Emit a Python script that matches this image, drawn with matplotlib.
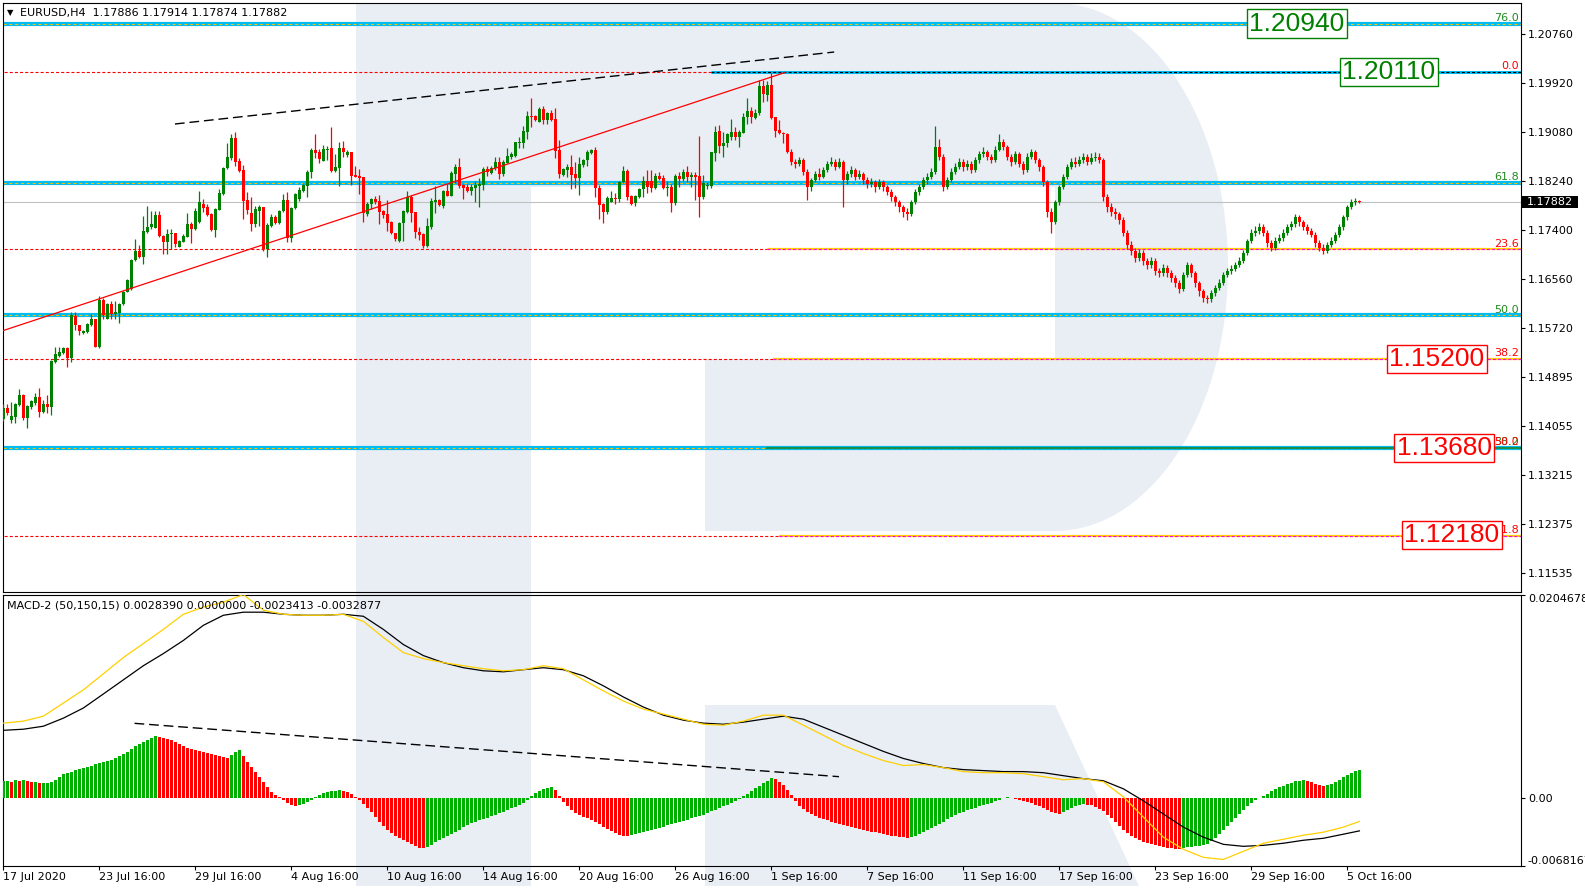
import numpy as np
import matplotlib
matplotlib.use("Agg")
import matplotlib.pyplot as plt
import matplotlib.transforms as mtransforms
from matplotlib.patches import Polygon, Rectangle

plt.rcParams['font.family'] = ['DejaVu Sans']
plt.rcParams['lines.scale_dashes'] = False
plt.rcParams['axes.linewidth'] = 0.8

# ---------------- data (EURUSD H4, bar 0 = 17 Jul 2020 16:00) ----------------
opens = [
    1.14165, 1.14354, 1.14154, 1.14211, 1.14411, 1.14582, 1.14183, 1.14382, 1.14439, 1.14542,
    1.14297, 1.14428, 1.14382, 1.15152, 1.15249, 1.15295, 1.15381, 1.15209, 1.15940, 1.15780,
    1.15649, 1.15666, 1.15780, 1.15877, 1.15409, 1.16208, 1.15888, 1.16139, 1.15963, 1.15991,
    1.16134, 1.16350, 1.16390, 1.16892, 1.17041, 1.16949, 1.17377, 1.17452, 1.17446, 1.17657,
    1.17309, 1.17206, 1.17332, 1.17349, 1.17121, 1.17206, 1.17292, 1.17509, 1.17423, 1.17549,
    1.17845, 1.17805, 1.17680, 1.17406, 1.17748, 1.18022, 1.18461, 1.18632, 1.18975, 1.18587,
    1.18433, 1.17919, 1.17691, 1.17509, 1.17737, 1.17794, 1.17075, 1.17480, 1.17628, 1.17532,
    1.17731, 1.17919, 1.17275, 1.17777, 1.17931, 1.18079, 1.18159, 1.18404, 1.18775, 1.18741,
    1.18593, 1.18781, 1.18804, 1.18421, 1.18467, 1.18804, 1.18689, 1.18741, 1.18347, 1.18330,
    1.18307, 1.17680, 1.17851, 1.17936, 1.17902, 1.17731, 1.17680, 1.17549, 1.17349, 1.17223,
    1.17520, 1.17719, 1.17976, 1.17708, 1.17371, 1.17337, 1.17137, 1.17463, 1.17879, 1.17919,
    1.17816, 1.18073, 1.17993, 1.18358, 1.18478, 1.18176, 1.18147, 1.18079, 1.18130, 1.18158,
    1.18176, 1.18449, 1.18375, 1.18461, 1.18564, 1.18364, 1.18558, 1.18661, 1.18678, 1.18900,
    1.18900, 1.19088, 1.19357, 1.19357, 1.19260, 1.19476, 1.19288, 1.19402, 1.19299, 1.18775,
    1.18347, 1.18432, 1.18489, 1.18364, 1.18301, 1.18518, 1.18604, 1.18729, 1.18775, 1.18130,
    1.17851, 1.17719, 1.17890, 1.17959, 1.17930, 1.18221, 1.18415, 1.17987, 1.17862, 1.17976,
    1.18101, 1.18244, 1.18244, 1.18119, 1.18330, 1.18290, 1.18119, 1.18136, 1.17873, 1.18330,
    1.18273, 1.18404, 1.18318, 1.18347, 1.18330, 1.17964, 1.18158, 1.18158, 1.18729, 1.19100,
    1.18849, 1.18889, 1.18991, 1.19088, 1.19003, 1.19071, 1.19334, 1.19442, 1.19317, 1.19402,
    1.19870, 1.19716, 1.19887, 1.19334, 1.19117, 1.19071, 1.19043, 1.18747, 1.18574, 1.18539,
    1.18608, 1.18400, 1.18141, 1.18262, 1.18366, 1.18314, 1.18435, 1.18539, 1.18574, 1.18487,
    1.18574, 1.18262, 1.18366, 1.18435, 1.18314, 1.18366, 1.18262, 1.18193, 1.18227, 1.18141,
    1.18227, 1.18141, 1.18054, 1.17968, 1.17881, 1.17795, 1.17708, 1.17674, 1.17881, 1.18054,
    1.18141, 1.18262, 1.18314, 1.18400, 1.18833, 1.18660, 1.18141, 1.18262, 1.18400, 1.18487,
    1.18574, 1.18487, 1.18539, 1.18435, 1.18608, 1.18712, 1.18747, 1.18660, 1.18608, 1.18781,
    1.18920, 1.18833, 1.18660, 1.18574, 1.18712, 1.18539, 1.18435, 1.18660, 1.18747, 1.18608,
    1.18487, 1.18227, 1.17708, 1.17535, 1.17881, 1.18141, 1.18314, 1.18487, 1.18574, 1.18539,
    1.18608, 1.18660, 1.18574, 1.18643, 1.18660, 1.18608, 1.17968, 1.17795, 1.17708, 1.17674,
    1.17570, 1.17362, 1.17155, 1.17051, 1.16930, 1.17016, 1.16878, 1.16809, 1.16878, 1.16705,
    1.16670, 1.16757, 1.16670, 1.16584, 1.16497, 1.16393, 1.16636, 1.16809, 1.16670, 1.16497,
    1.16359, 1.16238, 1.16220, 1.16324, 1.16411, 1.16497, 1.16636, 1.16705, 1.16739, 1.16809,
    1.16878, 1.17016, 1.17224, 1.17362, 1.17397, 1.17449, 1.17362, 1.17189, 1.17103, 1.17224,
    1.17276, 1.17362, 1.17449, 1.17501, 1.17622, 1.17535, 1.17449, 1.17397, 1.17328, 1.17189,
    1.17103, 1.17051, 1.17155, 1.17224, 1.17328, 1.17449, 1.17622, 1.17795, 1.17881, 1.17886,
]
highs = [
    1.14428, 1.14428, 1.14456, 1.14439, 1.14679, 1.14599, 1.14411, 1.14496, 1.14622, 1.14696,
    1.14496, 1.14582, 1.15181, 1.15409, 1.15409, 1.15409, 1.15398, 1.16008, 1.16008, 1.15780,
    1.15694, 1.15809, 1.15963, 1.15888, 1.16276, 1.16236, 1.16151, 1.16196, 1.16196, 1.16151,
    1.16368, 1.16561, 1.16904, 1.17246, 1.17149, 1.17646, 1.17817, 1.17737, 1.17737, 1.17737,
    1.17320, 1.17417, 1.17417, 1.17358, 1.17235, 1.17332, 1.17691, 1.17549, 1.17777, 1.18073,
    1.17936, 1.17845, 1.17700, 1.17788, 1.18108, 1.18478, 1.18889, 1.19049, 1.19077, 1.18632,
    1.18518, 1.18062, 1.17976, 1.17822, 1.17834, 1.17805, 1.17532, 1.17680, 1.17657, 1.17748,
    1.18022, 1.18051, 1.17794, 1.18033, 1.18148, 1.18205, 1.18433, 1.18804, 1.19049, 1.18786,
    1.18861, 1.18844, 1.19169, 1.18707, 1.18918, 1.18929, 1.18775, 1.18747, 1.18501, 1.18444,
    1.18319, 1.17879, 1.17949, 1.17988, 1.18005, 1.17748, 1.17919, 1.17566, 1.17360, 1.17548,
    1.17748, 1.18073, 1.18004, 1.17719, 1.17451, 1.17348, 1.17605, 1.17947, 1.18164, 1.17936,
    1.18090, 1.18193, 1.18415, 1.18535, 1.18632, 1.18193, 1.18193, 1.18193, 1.18250, 1.18301,
    1.18478, 1.18501, 1.18501, 1.18661, 1.18661, 1.18604, 1.18803, 1.18735, 1.18917, 1.19003,
    1.19185, 1.19442, 1.19659, 1.19374, 1.19516, 1.19528, 1.19431, 1.19459, 1.19488, 1.18946,
    1.18461, 1.18535, 1.18689, 1.18575, 1.18661, 1.18621, 1.18775, 1.18786, 1.18820, 1.18176,
    1.17873, 1.17987, 1.18073, 1.18033, 1.18250, 1.18501, 1.18449, 1.18004, 1.18004, 1.18130,
    1.18335, 1.18432, 1.18432, 1.18375, 1.18393, 1.18347, 1.18250, 1.18193, 1.18364, 1.18393,
    1.18449, 1.18501, 1.18393, 1.18393, 1.19014, 1.18347, 1.18233, 1.18746, 1.19185, 1.19203,
    1.19088, 1.19071, 1.19299, 1.19174, 1.19117, 1.19414, 1.19670, 1.19516, 1.19476, 1.19973,
    1.19973, 1.19961, 1.20098, 1.19345, 1.19288, 1.19088, 1.19060, 1.18800, 1.18620, 1.18660,
    1.18630, 1.18450, 1.18300, 1.18420, 1.18460, 1.18480, 1.18580, 1.18660, 1.18620, 1.18640,
    1.18600, 1.18410, 1.18500, 1.18470, 1.18430, 1.18400, 1.18320, 1.18300, 1.18260, 1.18280,
    1.18260, 1.18180, 1.18100, 1.18000, 1.17920, 1.17840, 1.17780, 1.17920, 1.18100, 1.18200,
    1.18320, 1.18380, 1.18460, 1.19179, 1.18960, 1.18700, 1.18320, 1.18460, 1.18560, 1.18640,
    1.18620, 1.18600, 1.18580, 1.18660, 1.18760, 1.18820, 1.18780, 1.18700, 1.18840, 1.19041,
    1.18960, 1.18860, 1.18700, 1.18760, 1.18740, 1.18580, 1.18720, 1.18800, 1.18780, 1.18640,
    1.18520, 1.18260, 1.17780, 1.17920, 1.18180, 1.18360, 1.18540, 1.18640, 1.18660, 1.18680,
    1.18720, 1.18700, 1.18720, 1.18740, 1.18720, 1.18640, 1.18020, 1.17860, 1.17780, 1.17720,
    1.17620, 1.17400, 1.17220, 1.17100, 1.17080, 1.17060, 1.16920, 1.16940, 1.16920, 1.16760,
    1.16820, 1.16800, 1.16720, 1.16640, 1.16550, 1.16680, 1.16860, 1.16840, 1.16700, 1.16540,
    1.16400, 1.16300, 1.16380, 1.16460, 1.16560, 1.16680, 1.16760, 1.16800, 1.16860, 1.16940,
    1.17060, 1.17260, 1.17420, 1.17480, 1.17520, 1.17500, 1.17400, 1.17240, 1.17280, 1.17340,
    1.17420, 1.17500, 1.17560, 1.17680, 1.17660, 1.17580, 1.17500, 1.17440, 1.17380, 1.17240,
    1.17160, 1.17200, 1.17280, 1.17380, 1.17500, 1.17660, 1.17840, 1.17940, 1.17960, 1.17914,
]
lows = [
    1.14143, 1.14234, 1.14097, 1.14108, 1.14394, 1.14154, 1.14011, 1.14337, 1.14411, 1.14211,
    1.14268, 1.14268, 1.14240, 1.15135, 1.15238, 1.15284, 1.15055, 1.15152, 1.15694, 1.15609,
    1.15626, 1.15649, 1.15763, 1.15398, 1.15392, 1.15877, 1.15877, 1.15877, 1.15888, 1.15809,
    1.16122, 1.16339, 1.16379, 1.16881, 1.16921, 1.16818, 1.17360, 1.17417, 1.17434, 1.17292,
    1.16989, 1.16989, 1.17075, 1.17121, 1.17109, 1.17195, 1.17280, 1.17178, 1.17406, 1.17532,
    1.17720, 1.17646, 1.17394, 1.17292, 1.17740, 1.18005, 1.18450, 1.18604, 1.18501, 1.18404,
    1.17594, 1.17680, 1.17394, 1.17452, 1.17480, 1.17052, 1.16949, 1.17463, 1.17509, 1.17509,
    1.17720, 1.17206, 1.17206, 1.17765, 1.17910, 1.18051, 1.17976, 1.18302, 1.18632, 1.18547,
    1.18587, 1.18604, 1.18404, 1.18400, 1.18159, 1.18661, 1.18661, 1.18176, 1.18307, 1.18016,
    1.17549, 1.17651, 1.17760, 1.17851, 1.17509, 1.17606, 1.17394, 1.17338, 1.17220, 1.17206,
    1.17217, 1.17691, 1.17548, 1.17274, 1.17234, 1.17103, 1.17109, 1.17423, 1.17702, 1.17816,
    1.17788, 1.17987, 1.17987, 1.18204, 1.18119, 1.17930, 1.18050, 1.18004, 1.17890, 1.17805,
    1.18090, 1.18330, 1.18364, 1.18432, 1.18278, 1.18330, 1.18546, 1.18615, 1.18661, 1.18815,
    1.18815, 1.18957, 1.19174, 1.19271, 1.19248, 1.19214, 1.19214, 1.19271, 1.18643, 1.18290,
    1.18330, 1.18307, 1.18107, 1.18119, 1.18004, 1.18478, 1.18501, 1.18700, 1.17976, 1.17594,
    1.17531, 1.17679, 1.17879, 1.17845, 1.17890, 1.18204, 1.17919, 1.17833, 1.17822, 1.17959,
    1.17976, 1.18033, 1.18050, 1.18101, 1.18261, 1.18107, 1.17987, 1.17719, 1.17833, 1.18136,
    1.18250, 1.18233, 1.18147, 1.17919, 1.17622, 1.17930, 1.18101, 1.18130, 1.18592, 1.18729,
    1.18661, 1.18832, 1.18946, 1.18946, 1.18832, 1.19060, 1.19214, 1.19242, 1.19299, 1.19374,
    1.19602, 1.19619, 1.19299, 1.19003, 1.19048, 1.18900, 1.18720, 1.18520, 1.18460, 1.18500,
    1.18350, 1.17916, 1.18080, 1.18220, 1.18260, 1.18290, 1.18400, 1.18500, 1.18440, 1.18460,
    1.17795, 1.18200, 1.18320, 1.18260, 1.18280, 1.18200, 1.18120, 1.18140, 1.18060, 1.18100,
    1.18080, 1.18000, 1.17900, 1.17820, 1.17720, 1.17620, 1.17570, 1.17640, 1.17850, 1.18000,
    1.18100, 1.18200, 1.18280, 1.18360, 1.18600, 1.18080, 1.18100, 1.18220, 1.18360, 1.18450,
    1.18420, 1.18440, 1.18380, 1.18400, 1.18560, 1.18660, 1.18600, 1.18550, 1.18570, 1.18750,
    1.18780, 1.18600, 1.18500, 1.18540, 1.18480, 1.18360, 1.18400, 1.18620, 1.18550, 1.18420,
    1.18160, 1.17620, 1.17362, 1.17500, 1.17840, 1.18100, 1.18280, 1.18450, 1.18480, 1.18500,
    1.18560, 1.18520, 1.18540, 1.18580, 1.18550, 1.17900, 1.17720, 1.17640, 1.17600, 1.17500,
    1.17300, 1.17080, 1.16980, 1.16860, 1.16880, 1.16800, 1.16740, 1.16760, 1.16640, 1.16600,
    1.16620, 1.16600, 1.16520, 1.16430, 1.16320, 1.16360, 1.16600, 1.16600, 1.16430, 1.16280,
    1.16180, 1.16151, 1.16180, 1.16280, 1.16380, 1.16460, 1.16600, 1.16660, 1.16700, 1.16770,
    1.16840, 1.16980, 1.17180, 1.17300, 1.17340, 1.17300, 1.17120, 1.17040, 1.17060, 1.17180,
    1.17220, 1.17320, 1.17400, 1.17460, 1.17480, 1.17400, 1.17340, 1.17280, 1.17120, 1.17050,
    1.17000, 1.17020, 1.17120, 1.17180, 1.17280, 1.17400, 1.17580, 1.17760, 1.17840, 1.17874,
]
closes = [
    1.14354, 1.14268, 1.14223, 1.14422, 1.14582, 1.14183, 1.14394, 1.14474, 1.14542, 1.14297,
    1.14422, 1.14382, 1.15170, 1.15284, 1.15324, 1.15381, 1.15209, 1.15951, 1.15774, 1.15683,
    1.15683, 1.15797, 1.15877, 1.15410, 1.16208, 1.15951, 1.16139, 1.15968, 1.15997, 1.16139,
    1.16350, 1.16550, 1.16892, 1.17041, 1.16949, 1.17389, 1.17463, 1.17509, 1.17657, 1.17309,
    1.17206, 1.17338, 1.17349, 1.17161, 1.17218, 1.17303, 1.17509, 1.17429, 1.17731, 1.17891,
    1.17788, 1.17663, 1.17406, 1.17771, 1.18033, 1.18467, 1.18661, 1.18975, 1.18575, 1.18421,
    1.17908, 1.17748, 1.17509, 1.17765, 1.17805, 1.17075, 1.17491, 1.17628, 1.17532, 1.17731,
    1.17919, 1.17263, 1.17777, 1.18022, 1.18091, 1.18176, 1.18404, 1.18775, 1.18729, 1.18627,
    1.18786, 1.18792, 1.18421, 1.18478, 1.18804, 1.18747, 1.18747, 1.18336, 1.18307, 1.18302,
    1.17691, 1.17851, 1.17931, 1.17891, 1.17720, 1.17663, 1.17520, 1.17349, 1.17246, 1.17531,
    1.17731, 1.17976, 1.17702, 1.17371, 1.17320, 1.17137, 1.17480, 1.17902, 1.17919, 1.17833,
    1.18073, 1.17993, 1.18375, 1.18478, 1.18164, 1.18130, 1.18079, 1.18147, 1.18176, 1.18193,
    1.18449, 1.18404, 1.18461, 1.18564, 1.18364, 1.18575, 1.18672, 1.18706, 1.18906, 1.18917,
    1.19106, 1.19357, 1.19334, 1.19288, 1.19476, 1.19288, 1.19402, 1.19288, 1.18763, 1.18364,
    1.18449, 1.18489, 1.18347, 1.18301, 1.18529, 1.18604, 1.18735, 1.18775, 1.18119, 1.17833,
    1.17719, 1.17959, 1.17959, 1.17930, 1.18233, 1.18415, 1.17976, 1.17851, 1.17987, 1.18107,
    1.18244, 1.18147, 1.18119, 1.18330, 1.18278, 1.18119, 1.18147, 1.17873, 1.18330, 1.18278,
    1.18404, 1.18318, 1.18347, 1.18318, 1.17964, 1.18216, 1.18176, 1.18746, 1.19088, 1.18849,
    1.18900, 1.19048, 1.19088, 1.19003, 1.19088, 1.19345, 1.19442, 1.19345, 1.19402, 1.19870,
    1.19727, 1.19887, 1.19328, 1.19106, 1.19071, 1.19043, 1.18747, 1.18574, 1.18539, 1.18608,
    1.18400, 1.18141, 1.18262, 1.18366, 1.18314, 1.18435, 1.18539, 1.18574, 1.18487, 1.18574,
    1.18262, 1.18366, 1.18435, 1.18314, 1.18366, 1.18262, 1.18193, 1.18227, 1.18141, 1.18227,
    1.18141, 1.18054, 1.17968, 1.17881, 1.17795, 1.17708, 1.17674, 1.17881, 1.18054, 1.18141,
    1.18262, 1.18314, 1.18400, 1.18833, 1.18660, 1.18141, 1.18262, 1.18400, 1.18487, 1.18574,
    1.18487, 1.18539, 1.18435, 1.18608, 1.18712, 1.18747, 1.18660, 1.18608, 1.18781, 1.18920,
    1.18833, 1.18660, 1.18574, 1.18712, 1.18539, 1.18435, 1.18660, 1.18747, 1.18608, 1.18487,
    1.18227, 1.17708, 1.17535, 1.17881, 1.18141, 1.18314, 1.18487, 1.18574, 1.18539, 1.18608,
    1.18660, 1.18574, 1.18643, 1.18660, 1.18608, 1.17968, 1.17795, 1.17708, 1.17674, 1.17570,
    1.17362, 1.17155, 1.17051, 1.16930, 1.17016, 1.16878, 1.16809, 1.16878, 1.16705, 1.16670,
    1.16757, 1.16670, 1.16584, 1.16497, 1.16393, 1.16636, 1.16809, 1.16670, 1.16497, 1.16359,
    1.16238, 1.16220, 1.16324, 1.16411, 1.16497, 1.16636, 1.16705, 1.16739, 1.16809, 1.16878,
    1.17016, 1.17224, 1.17362, 1.17397, 1.17449, 1.17362, 1.17189, 1.17103, 1.17224, 1.17276,
    1.17362, 1.17449, 1.17501, 1.17622, 1.17535, 1.17449, 1.17397, 1.17328, 1.17189, 1.17103,
    1.17051, 1.17155, 1.17224, 1.17328, 1.17449, 1.17622, 1.17795, 1.17881, 1.17886, 1.17882,
]

# MACD-2 (50,150,15) histogram, units of 1e-4
macd_hist = [
    17, 17, 16, 18, 17, 18, 17, 16, 16, 15,
    15, 15, 16, 18, 21, 24, 25, 26, 28, 29,
    30, 31, 32, 34, 35, 36, 37, 38, 40, 42,
    44, 46, 49, 52, 54, 56, 58, 60, 62, 61,
    60, 59, 58, 56, 54, 52, 50, 49, 48, 47,
    46, 45, 44, 43, 42, 41, 40, 43, 46, 48,
    42, 36, 31, 26, 21, 16, 11, 6, 3, 1,
    -2, -5, -7, -8, -7, -6, -4, -2, 1, 3,
    5, 6, 7, 7.5, 8, 7, 6, 4, 1, -2,
    -6, -10, -14, -19, -24, -28, -32, -35, -38, -40,
    -42, -44, -46, -48, -50, -50.5, -49, -47, -44, -42,
    -40, -38, -36, -34, -32, -29, -27, -25, -24, -22,
    -21, -20, -18, -17, -15, -14, -12, -10, -9, -7,
    -5, -2, 2, 5, 7, 9, 10, 11, 8, 2,
    -4, -8, -12, -15, -17, -19, -20, -22, -24, -26,
    -29, -31, -33, -35, -37, -38, -38.5, -37, -36, -35,
    -34, -33, -32, -31, -30, -29, -27, -26, -25, -24,
    -23, -22, -20, -19, -18, -17, -15, -13, -12, -10,
    -8, -7, -5, -3, -1, 2, 4, 7, 10, 12,
    15, 17, 20, 19, 16, 13, 8, 3, -3, -8,
    -11, -14, -16, -18, -20, -21, -22, -24, -25, -26,
    -27, -28, -29, -30, -31, -32, -33, -34, -34.5, -35,
    -36, -37, -38, -38.5, -39, -39.5, -40, -39, -38, -36,
    -34, -32, -30, -28, -26, -24, -21, -19, -17, -15,
    -14, -12, -11, -10, -8, -7, -6, -5, -3, -2,
    0, 1, 0, -1, -2, -3, -4, -5, -7, -8,
    -10, -12, -14, -15, -16, -14, -12, -10, -8, -7,
    -6, -6.5, -7, -9, -11, -13, -17, -20, -24, -28,
    -32, -35, -38, -40, -42, -44, -45, -46, -47, -48,
    -49, -50, -50.5, -51, -51.5, -50, -49.5, -49, -48.5, -48,
    -47, -46, -43, -40, -36, -32, -28, -24, -20, -16,
    -12, -8, -5, -2, 0, 2, 4, 7, 9, 11,
    12, 14, 15, 17, 17.5, 18, 17, 16, 14, 13,
    12, 13, 14, 16, 18, 21, 23, 25, 27, 28.39,
]
macd_bars = list(range(0, 336, 5)) + [339]
macd_main = [
    75.4, 77.4, 82.4, 95.6, 108.8, 125.0, 141.3, 155.4, 169.6, 184.8,
    192.0, 197.0, 204.6, 188.9, 184.8, 183.8, 183.8, 184.8, 177.7, 161.5,
    146.3, 140.2, 136.2, 133.1, 130.1, 128.0, 129.1, 133.1, 130.1, 118.9,
    107.8, 97.6, 89.5, 84.5, 79.4, 74.3, 73.3, 77.4, 83.4, 83.4,
    73.3, 63.2, 53.0, 44.9, 37.8, 32.8, 33.8, 30.7, 26.7, 25.6,
    25.6, 24.6, 21.6, 18.5, 19.6, 16.5, 1.3, -19.0, -39.2, -51.4,
    -59.5, -61.6, -53.4, -45.3, -41.3, -37.2, -34.2, -29.1, -23.413,
]
macd_signal = [
    68.2, 69.3, 72.3, 80.4, 90.6, 104.7, 118.9, 133.1, 145.3, 158.5,
    173.7, 183.8, 186.9, 186.9, 184.8, 183.8, 183.8, 184.8, 182.8, 169.6,
    154.4, 143.3, 136.2, 131.1, 128.0, 127.0, 129.1, 131.1, 129.1, 123.0,
    112.9, 101.7, 91.6, 83.4, 78.4, 75.4, 74.3, 76.4, 79.4, 82.4,
    79.4, 71.3, 63.2, 55.1, 47.0, 39.9, 34.8, 30.7, 28.7, 27.7,
    26.7, 26.7, 25.6, 22.6, 19.6, 17.5, 9.4, -2.7, -15.9, -29.1,
    -39.2, -46.4, -48.4, -47.4, -45.3, -42.3, -40.3, -36.2, -32.877,
]

date_ticks = list(range(0, 337, 24))
date_labels = ['17 Jul 2020', '23 Jul 16:00', '29 Jul 16:00', '4 Aug 16:00', '10 Aug 16:00',
               '14 Aug 16:00', '20 Aug 16:00', '26 Aug 16:00', '1 Sep 16:00', '7 Sep 16:00',
               '11 Sep 16:00', '17 Sep 16:00', '23 Sep 16:00', '29 Sep 16:00', '5 Oct 16:00']
price_ticks = [1.20760, 1.19920, 1.19080, 1.18240, 1.17400, 1.16560, 1.15720,
               1.14895, 1.14055, 1.13215, 1.12375, 1.11535]
macd_ticks = [0.0204678, 0.0, -0.0068167]
macd_tick_labels = ['0.0204678', '0.00', '-0.0068167']

last_price = 1.17882
# fibo grid 1 (thick blue lines)
blue_levels = [1.20940, 1.18212, 1.15946, 1.13680]
blue_names = ['76.0', '61.8', '50.0', '38.2']
# fibo grid 2 (red dashed) with bar where the right-hand copy starts
red_levels = [1.20110, 1.17077, 1.15200, 1.13680, 1.12167]
red_names = ['0.0', '23.6', '38.2', '50.0', '61.8']
red_start = [177, 191, 192.5, 191, 194]
# price labels
box_texts = ['1.20940', '1.20110', '1.15200', '1.13680', '1.12180']
box_levels = [1.20940, 1.20110, 1.15200, 1.13680, 1.12180]
# trend lines (bar, price)
tl_upper = ([42.9, 207.7], [1.19220, 1.20452])
tl_red = ([-0.16, 195.4], [1.15682, 1.20101])
tl_macd = ([32.8, 208.9], [0.00752, 0.00216])

# ---------------- figure ----------------
W, H = 1585, 890
fig = plt.figure(figsize=(W / 100, H / 100), dpi=100)
fig.patch.set_facecolor('white')

# watermark "R"
bg = fig.add_axes([0, 0, 1, 1], zorder=0)
bg.set_xlim(0, W)
bg.set_ylim(H, 0)
bg.axis('off')
wm = '#e9eef5'
t = np.linspace(np.pi / 2, -np.pi / 2, 80)
arc = np.column_stack([1055 + 173 * np.cos(t), 267 - 264 * np.sin(t)])
r_pts = [(356, 3)] + arc.tolist() + [(705, 531), (705, 359), (1055, 359), (1055, 187),
                                     (531, 187), (531, 886), (356, 886)]
bg.add_patch(Polygon(r_pts, closed=True, fc=wm, ec='none'))
bg.add_patch(Polygon([(705, 705), (1055, 705), (1139, 886), (705, 886)], closed=True, fc=wm, ec='none'))

left, right = 2.5, 1521
ax = fig.add_axes([left / W, 1 - 592 / H, (right - left) / W, (592 - 3) / H], zorder=1)
ax2 = fig.add_axes([left / W, 1 - 866 / H, (right - left) / W, (866 - 594.5) / H], zorder=1)
for a in (ax, ax2):
    a.set_facecolor('none')
    a.set_xlim(-0.21, 379.4)
    for s in a.spines.values():
        s.set_color('black')
        s.set_linewidth(0.8)

ax.set_ylim(1.11210, 1.21291)
ax2.set_ylim(-0.0068167, 0.0204678)

o = np.array(opens)
h = np.array(highs)
l = np.array(lows)
c = np.array(closes)
x = np.arange(len(c))
GREEN, RED = '#008000', '#ff0000'

# horizontal levels
XR = 400
ax.axhline(last_price, color='#c0c0c0', lw=0.8, zorder=1.5)
for lv in blue_levels:
    ax.axhline(lv, color='#00bcf2', lw=3.0, zorder=2)
    ax.axhline(lv, color='#ffc000', lw=0.8, dashes=(2.2, 2.0), zorder=2.1)

for i, (lv, xs) in enumerate(zip(red_levels, red_start)):
    if i != 3:
        ax.plot([-1, xs], [lv, lv], color=RED, lw=0.8, dashes=(2.2, 1.5), zorder=2.2)
    if i == 0:
        ax.plot([xs, XR], [lv, lv], color='#00bcf2', lw=2.2, solid_capstyle='butt', zorder=2.2)
        ax.plot([xs, XR], [lv, lv], color='black', lw=0.8, dashes=(2.2, 1.5), zorder=2.3)
    elif i == 3:
        ax.plot([xs, XR], [lv, lv], color='#1a8a3a', lw=1.3, zorder=2.3)
    else:
        ax.plot([xs, XR], [lv, lv], color='#ffd000', lw=1.6, solid_capstyle='butt', zorder=2.2)
        ax.plot([xs, XR], [lv, lv], color='#ff00ff', lw=0.8, dashes=(2.2, 1.5), zorder=2.3)

# candles
col = np.where(c >= o, GREEN, RED)
ax.vlines(x, l, h, colors=col, lw=0.9, zorder=4)
ax.bar(x, np.maximum(np.abs(c - o), 0.00013), bottom=np.minimum(o, c), width=0.72,
       color=col, lw=0, zorder=5)

# trend lines
ax.plot(tl_upper[0], tl_upper[1], color='black', lw=1.0, dashes=(7, 3.5), zorder=6)
ax.plot(tl_red[0], tl_red[1], color=RED, lw=0.9, zorder=6)

trans = mtransforms.blended_transform_factory(ax.transAxes, ax.transData)

# level names at the right edge
for lv, nm in zip(blue_levels, blue_names):
    ax.annotate(nm, xy=(1, lv), xycoords=trans, xytext=(-1.5, 0.5), textcoords='offset points',
                ha='right', va='bottom', fontsize=8, color='#1f8a1f', zorder=7, annotation_clip=False)
for lv, nm in zip(red_levels, red_names):
    ax.annotate(nm, xy=(1, lv), xycoords=trans, xytext=(-1.5, 0.5), textcoords='offset points',
                ha='right', va='bottom', fontsize=8, color=RED, zorder=7, annotation_clip=False)

# price boxes
box_x = [0.8525, 0.9131, 0.9447, 0.9493, 0.9546]
box_col = [GREEN, GREEN, RED, RED, RED]
for bx, lv, txt, bc in zip(box_x, box_levels, box_texts, box_col):
    ax.text(bx, lv, txt, transform=trans, ha='center', va='center', fontsize=19,
            family=['Liberation Sans', 'DejaVu Sans'], color=bc, zorder=9,
            bbox=dict(boxstyle='square,pad=0.08', fc='white', ec=bc, lw=1.0))

# axis ticks main
ax.set_xticks([])
ax.yaxis.tick_right()
ax.set_yticks(price_ticks)
ax.set_yticklabels([f'{v:.5f}' for v in price_ticks])
ax.tick_params(axis='y', direction='out', length=3, width=0.8, pad=2, labelsize=8)

# current price tag
tag_w = 56 / (right - left)
ax.add_patch(Rectangle((1.0008, last_price - 0.00099), tag_w, 0.00198, transform=trans,
                       clip_on=False, fc='black', ec='none', zorder=10))
ax.text(1.0008 + tag_w / 2, last_price, f'{last_price:.5f}', transform=trans, ha='center',
        va='center', color='white', fontsize=8, clip_on=False, zorder=11)

# MACD panel
hv = np.array(macd_hist) * 1e-4
hcol = [GREEN if i == 0 or hv[i] >= hv[i - 1] else RED for i in range(len(hv))]
hcol = ['#00b000' if cc == GREEN else RED for cc in hcol]
ax2.bar(x, hv, width=0.6, color=hcol, lw=0, zorder=3)
ax2.plot(macd_bars, np.array(macd_signal) * 1e-4, color='black', lw=0.9, zorder=4)
ax2.plot(macd_bars, np.array(macd_main) * 1e-4, color='#ffd000', lw=0.9, zorder=4)
ax2.plot(tl_macd[0], tl_macd[1], color='black', lw=1.0, dashes=(7, 3.5), zorder=5)

ax2.yaxis.tick_right()
ax2.set_yticks(macd_ticks)
ax2.set_yticklabels(macd_tick_labels)
ax2.tick_params(axis='y', direction='out', length=3, width=0.8, pad=2, labelsize=8)
yl = ax2.get_yticklabels()
yl[0].set_verticalalignment('top')
yl[2].set_verticalalignment('bottom')

ax2.set_xticks(date_ticks)
ax2.set_xticklabels(date_labels)
ax2.tick_params(axis='x', direction='out', length=3, width=0.8, pad=1.5, labelsize=8)
for tl in ax2.get_xticklabels():
    tl.set_horizontalalignment('left')

# headers
fig.text(7 / W, 1 - 12.7 / H, '\u25bc', fontsize=6, va='center', ha='left')
fig.text(20.5 / W, 1 - 12.7 / H, 'EURUSD,H4  1.17886 1.17914 1.17874 1.17882',
         fontsize=8, va='center', ha='left')
fig.text(7 / W, 1 - 605 / H, 'MACD-2 (50,150,15) 0.0028390 0.0000000 -0.0023413 -0.0032877',
         fontsize=8, va='center', ha='left')

fig.savefig('out.png', dpi=100, facecolor='white')
